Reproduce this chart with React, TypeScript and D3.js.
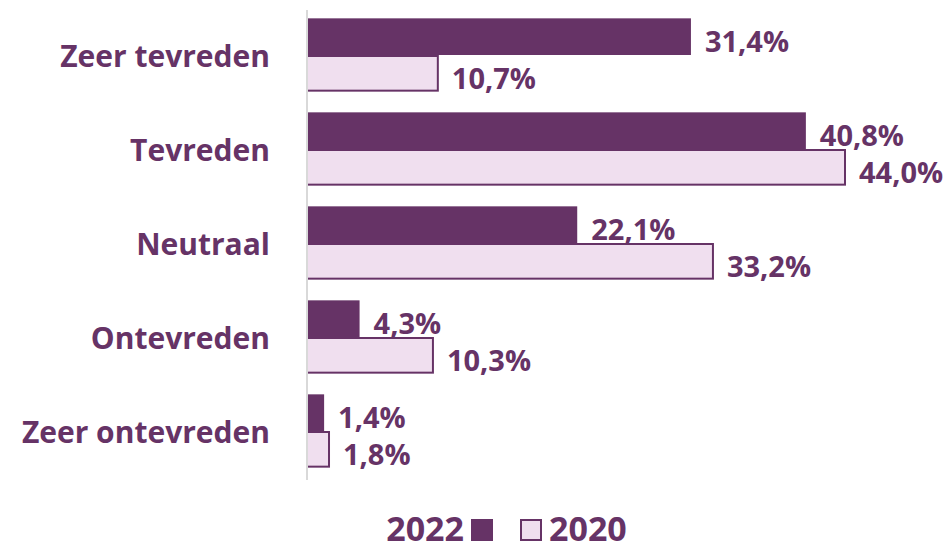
import React, { useEffect, useRef } from "react";
import * as d3 from "d3";

const categories = ["Zeer tevreden", "Tevreden", "Neutraal", "Ontevreden", "Zeer ontevreden"];
const values2022 = [31.4, 40.8, 22.1, 4.3, 1.4];
const values2020 = [10.7, 44.0, 33.2, 10.3, 1.8];
const seriesNames = ["2022", "2020"];

const DARK = "#663366";
const LIGHT = "#F0DFEF";
const FONT = "'Open Sans', sans-serif";

export default function App() {
  const ref = useRef<SVGSVGElement>(null);

  useEffect(() => {
    const svg = d3.select(ref.current);
    svg.selectAll("*").remove();

    const width = 945, height = 553;
    const left = 307, top = 8, bottom = 478;

    const x = d3.scaleLinear().domain([0, 44]).range([left, 845]);
    const y = d3.scaleBand<string>().domain(categories).range([top, bottom]).paddingInner(0.22).paddingOuter(0.11);
    const sub = d3.scaleBand<string>().domain(seriesNames).range([0, y.bandwidth()]);

    const fmt = (v: number) => v.toFixed(1).replace(".", ",") + "%";

    const g = svg.append("g");

    const rows = categories.map((c, i) => ({ c, v: [values2022[i], values2020[i]] }));

    rows.forEach(r => {
      r.v.forEach((v, k) => {
        const s = seriesNames[k];
        const yy = (y(r.c) as number) + (sub(s) as number);
        g.append("rect")
          .attr("x", x(0))
          .attr("y", k === 0 ? yy : yy + 1)
          .attr("width", x(v) - x(0))
          .attr("height", k === 0 ? sub.bandwidth() : sub.bandwidth() - 2)
          .attr("fill", k === 0 ? DARK : LIGHT)
          .attr("stroke", k === 0 ? "none" : DARK)
          .attr("stroke-width", 2);
        g.append("text")
          .attr("x", x(v) + 14)
          .attr("y", yy + sub.bandwidth() / 2 + 4)
          .attr("dominant-baseline", "central")
          .attr("font-family", FONT)
          .attr("font-weight", 700)
          .attr("font-size", 29)
          .attr("fill", DARK)
          .text(fmt(v));
      });
    });

    // axis line
    svg.append("line")
      .attr("x1", left).attr("x2", left)
      .attr("y1", 10).attr("y2", 480)
      .attr("stroke", "#D9D9D9").attr("stroke-width", 2);

    // category labels
    categories.forEach(c => {
      svg.append("text")
        .attr("x", 270)
        .attr("y", (y(c) as number) + y.bandwidth() / 2)
        .attr("text-anchor", "end")
        .attr("dominant-baseline", "central")
        .attr("font-family", FONT)
        .attr("font-weight", 700)
        .attr("font-size", 30)
        .attr("fill", DARK)
        .text(c);
    });

    // legend
    const ly = 530;
    const legend = svg.append("g").attr("font-family", FONT).attr("font-weight", 700).attr("font-size", 34).attr("fill", DARK);
    legend.append("text").attr("x", 464).attr("y", 541).attr("text-anchor", "end").text(seriesNames[0]);
    legend.append("rect").attr("x", 471).attr("y", ly - 11).attr("width", 22).attr("height", 22).attr("fill", DARK);
    legend.append("rect").attr("x", 521).attr("y", ly - 10).attr("width", 20).attr("height", 20).attr("fill", LIGHT).attr("stroke", DARK).attr("stroke-width", 2);
    legend.append("text").attr("x", 549).attr("y", 541).text(seriesNames[1]);

    svg.attr("width", width).attr("height", height);
  }, []);

  return (
    <div style={{ position: "absolute", left: 0, top: 0 }}>
      <svg ref={ref} width={945} height={553} style={{ display: "block", background: "#fff" }} />
    </div>
  );
}
